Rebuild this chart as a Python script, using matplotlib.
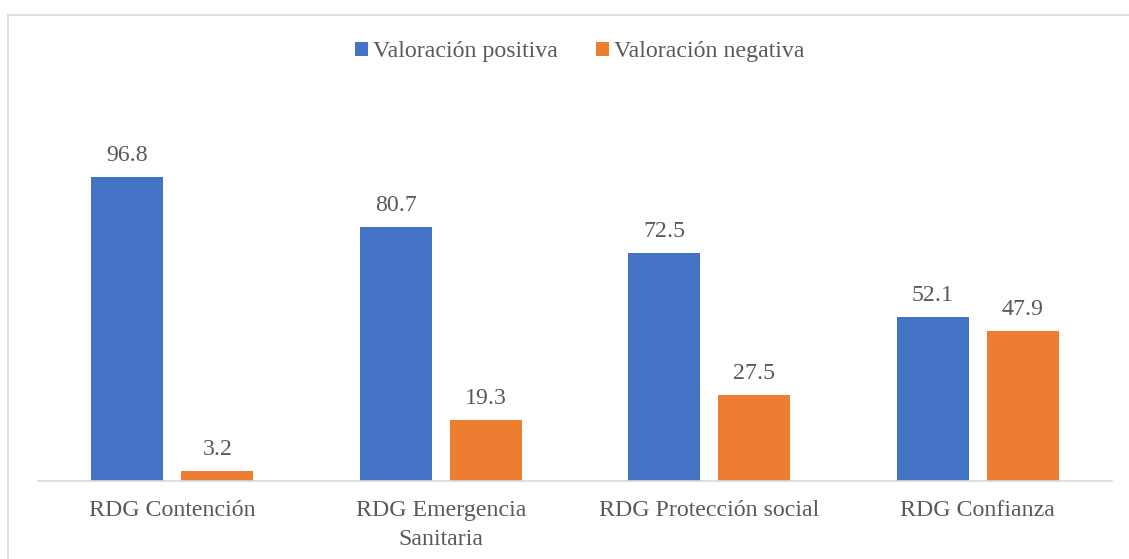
import matplotlib.pyplot as plt
from matplotlib import font_manager
from matplotlib.patches import Rectangle
import numpy as np

instaladas = {f.name for f in font_manager.fontManager.ttflist}
serif = next((f for f in ['Liberation Serif', 'Noto Serif', 'DejaVu Serif'] if f in instaladas), 'serif')
plt.rcParams['font.family'] = [serif, 'DejaVu Serif']

categorias = ['RDG Contención', 'RDG Emergencia\nSanitaria', 'RDG Protección social', 'RDG Confianza']
positiva = [96.8, 80.7, 72.5, 52.1]
negativa = [3.2, 19.3, 27.5, 47.9]

azul = '#4472C4'
naranja = '#ED7D31'
gris = '#595959'
fs = 17.2 if serif != 'DejaVu Serif' else 14.5

W, H = 1129, 559
fig = plt.figure(figsize=(W / 100, H / 100), dpi=100)

# chart border (right and bottom edges fall outside the picture)
fig.patches.append(Rectangle((8 / W, -0.1), 1.2, (H - 15) / H + 0.1,
                             transform=fig.transFigure, fill=False,
                             edgecolor='#D9D9D9', linewidth=1.2))

ax = fig.add_axes([38 / W, (H - 481) / H, 1074 / W, 377 / H])
x = np.arange(len(categorias))
w = 0.268
off = 0.168
b1 = ax.bar(x - off, positiva, w, color=azul, label='Valoración positiva')
b2 = ax.bar(x + off, negativa, w, color=naranja, label='Valoración negativa')

for bars, vals in ((b1, positiva), (b2, negativa)):
    for r, v in zip(bars, vals):
        ax.text(r.get_x() + r.get_width() / 2, v + 3.5, f'{v:.1f}',
                ha='center', va='bottom', fontsize=fs, color=gris)

ax.set_xlim(-0.5, 3.5)
ax.set_ylim(0, 120)
ax.set_yticks([])
ax.set_xticks(x)
ax.set_xticklabels(categorias, fontsize=fs, color=gris, linespacing=1.5)
ax.tick_params(axis='x', length=0, pad=14)
for s in ('top', 'right', 'left'):
    ax.spines[s].set_visible(False)
ax.spines['bottom'].set_color('#D9D9D9')
ax.spines['bottom'].set_linewidth(1.2)

fig.legend(loc='center', bbox_to_anchor=(580 / W, 1 - 52 / H), ncol=2,
           frameon=False, fontsize=fs, labelcolor=gris, handlelength=0.55,
           handleheight=0.55, handletextpad=0.2, columnspacing=1.6)

fig.savefig('out.png', dpi=100)
